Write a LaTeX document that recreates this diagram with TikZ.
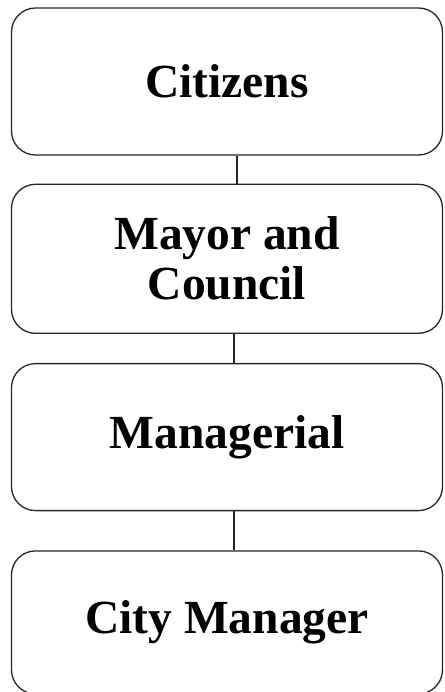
\documentclass[tikz,border=0pt]{standalone}
\usepackage{fontspec}
\setmainfont{Liberation Serif}
\usetikzlibrary{positioning}

\begin{document}
\begin{tikzpicture}
  [x=1pt,y=1pt,node distance=28pt,
   govN/.style={draw=black!85,line width=1.3pt,rectangle,rounded corners=24pt,
                minimum width=431pt,minimum height=147pt,align=center,
                font=\fontsize{47.5}{50}\selectfont\bfseries},
   linkE/.style={draw=black!85,line width=1.6pt},
  ]
 \useasboundingbox (0,0) rectangle (444,-692);

 \node[govN] (cit) at (227,-81.5) {Citizens};
 \node[govN,minimum height=149pt] (mc) [below=of cit] {Mayor and\\ Council};
 \node[govN] (man) [below=29pt of mc] {Managerial};
 \node[govN,minimum height=143pt] (cm) [below=39pt of man] {City Manager};

 \draw[linkE] (cit.south) ++(10,0) coordinate (a1) -- (a1 |- mc.north);
 \draw[linkE] (mc.south) ++(7,0) coordinate (a2) -- (a2 |- man.north);
 \draw[linkE] (man.south) ++(7,0) coordinate (a3) -- (a3 |- cm.north);

\end{tikzpicture}
\end{document}
